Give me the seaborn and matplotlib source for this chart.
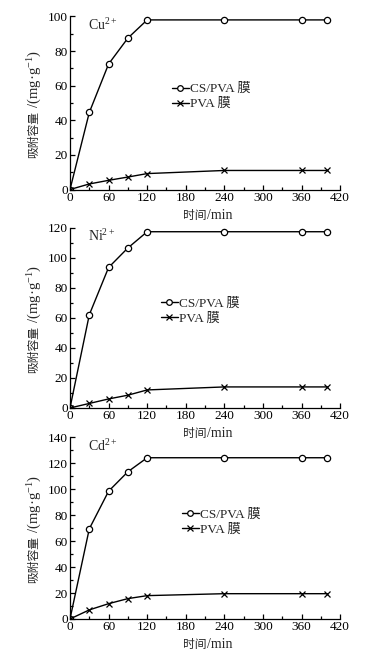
import matplotlib
matplotlib.use("Agg")
import matplotlib.pyplot as plt
import numpy as np
import pandas as pd
import seaborn as sns
from matplotlib.ticker import MultipleLocator

# adsorption time, min
time_min = [0, 30, 60, 90, 120, 240, 360, 400]

cu_cspva = [0, 44.5, 72.5, 87.5, 98, 98, 98, 98]
cu_pva = [0, 3.2, 5.3, 7.2, 9.2, 11, 11, 11]

ni_cspva = [0, 62, 93.5, 106.5, 117.3, 117.3, 117.3, 117.3]
ni_pva = [0, 3, 6, 8.5, 12, 14, 14, 14]

cd_cspva = [0, 69.5, 98.5, 113.5, 124.3, 124.3, 124.3, 124.3]
cd_pva = [0, 7, 11.8, 15.7, 18, 19.5, 19.5, 19.5]

ions = ["Cu$^{2+}$", "Ni$^{2+}$", "Cd$^{2+}$"]
series_labels = ["CS/PVA 膜", "PVA 膜"]

sns.set_style("ticks")
plt.rcParams['font.family'] = ['Liberation Serif', 'Noto Sans CJK SC']
plt.rcParams['mathtext.fontset'] = 'custom'
plt.rcParams['mathtext.rm'] = 'Liberation Serif'
plt.rcParams['mathtext.it'] = 'Liberation Serif'
plt.rcParams['axes.unicode_minus'] = False

CJK = 'Noto Sans CJK SC'

fig = plt.figure(figsize=(3.91, 6.58), dpi=100)

panels = [
    (cu_cspva, cu_pva, [0.179, 0.712, 0.691, 0.263], 100, (0.378, 0.615)),
    (ni_cspva, ni_pva, [0.179, 0.380, 0.691, 0.274], 120, (0.337, 0.612)),
    (cd_cspva, cd_pva, [0.179, 0.0593, 0.691, 0.276], 140, (0.415, 0.607)),
]

for i, (cs, pva, rect, ytop, leg_pos) in enumerate(panels):
    ax = fig.add_axes(rect)
    ax.set_facecolor('none')  # keep the labels of the panel above visible
    sns.lineplot(x=time_min, y=cs, color='black', marker='o',
                 markersize=4.5, markeredgecolor='black', markerfacecolor='white',
                 markeredgewidth=0.9, linewidth=1.0, label=series_labels[0], ax=ax)
    sns.lineplot(x=time_min, y=pva, color='black', marker='x',
                 markersize=4.5, markeredgecolor='black',
                 markeredgewidth=0.9, linewidth=1.0, label=series_labels[1], ax=ax)

    ax.set_xlim(0, 420)
    ax.set_ylim(0, ytop)
    ax.xaxis.set_major_locator(MultipleLocator(60))
    ax.xaxis.set_minor_locator(MultipleLocator(30))
    ax.yaxis.set_major_locator(MultipleLocator(20))
    ax.yaxis.set_minor_locator(MultipleLocator(10))
    ax.tick_params(which='both', direction='in', labelsize=9.5, color='black',
                   labelcolor='black', width=0.9, pad=1.5)
    ax.tick_params(which='major', length=3.6)
    ax.tick_params(which='minor', length=2.2)
    for s in ['left', 'bottom']:
        ax.spines[s].set_linewidth(0.9)
        ax.spines[s].set_color('black')
    sns.despine(ax=ax)

    ax.set_xlabel('')
    ax.set_ylabel('')
    # x label: CJK part and latin part set separately
    ax.annotate('时间', xy=(0.507, 0), xycoords='axes fraction',
                xytext=(0, -29), textcoords='offset pixels',
                ha='right', va='baseline', fontsize=8.5, family=CJK)
    ax.annotate('/min', xy=(0.507, 0), xycoords='axes fraction',
                xytext=(0, -29), textcoords='offset pixels',
                ha='left', va='baseline', fontsize=10)
    # y label
    ax.annotate('吸附容量', xy=(0, 0.49), xycoords='axes fraction',
                xytext=(-36, -6), textcoords='offset pixels', rotation=90,
                ha='center', va='top', fontsize=8.5, family=CJK)
    ax.annotate(' /(mg·g$^{-1}$)', xy=(0, 0.49), xycoords='axes fraction',
                xytext=(-35, -6), textcoords='offset pixels', rotation=90,
                ha='center', va='bottom', fontsize=10.5)

    ax.text(0.065, 0.995, ions[i], transform=ax.transAxes, fontsize=10,
            va='top', ha='left')

    ax.legend(loc='upper left',
              bbox_to_anchor=leg_pos, frameon=False, fontsize=9.5,
              handlelength=1.25, handletextpad=0.1, borderpad=0,
              borderaxespad=0, labelspacing=0.2, markerscale=0.9)

plt.savefig("out.png", dpi=100)
